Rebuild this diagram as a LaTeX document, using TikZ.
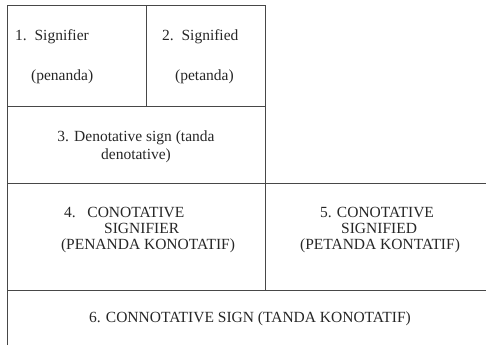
\documentclass[tikz,border=0pt]{standalone}
\usepackage{fontspec}
\setmainfont{Liberation Serif}
\begin{document}
\begin{tikzpicture}[x=1pt,y=-1pt,
  rule/.style={draw=black!72,line width=1pt},
  txt/.style={inner sep=0pt,text=black!85,font=\fontsize{15.5}{16}\selectfont}]
\useasboundingbox (0,0) rectangle (486,345);
% grid lines
\coordinate (tl) at (7,6);
\coordinate (tr) at (265,6);
\coordinate (tm) at (146,6);
\coordinate (mm) at (146,106);
\coordinate (ml) at (7,106);
\coordinate (mr) at (265,106);
\coordinate (al) at (7,183);
\coordinate (ar) at (486,183);
\coordinate (am) at (265,183);
\coordinate (bl) at (7,290);
\coordinate (br) at (486,290);
\coordinate (bm) at (265,290);
\coordinate (el) at (7,345);
\draw[rule] (el) -- (tl) -- (tr) -- (bm);
\draw[rule] (tm) -- (mm);
\draw[rule] (ml) -- (mr);
\draw[rule] (al) -- (ar);
\draw[rule] (bl) -- (br);
% texts
\node[txt,anchor=base west] (t1a) at (15,41) {1.\ \ Signifier};
\node[txt,anchor=base west] (t1b) at (31,80) {(penanda)};
\node[txt,anchor=base west] (t2a) at (162,41) {2.\ \ Signified};
\node[txt,anchor=base west] (t2b) at (175,80) {(petanda)};
\node[txt,anchor=base] (t3a) at (136,141) {3. Denotative sign (tanda};
\node[txt,anchor=base] (t3b) at (136,159) {denotative)};
\node[txt,anchor=base west] (t4a) at (64,217) {4.\ \ \ CONOTATIVE};
\node[txt,anchor=base west] (t4b) at (104,233) {SIGNIFIER};
\node[txt,anchor=base] (t4c) at (148,249) {(PENANDA KONOTATIF)};
\node[txt,anchor=base west] (t5a) at (320,217) {5. CONOTATIVE};
\node[txt,anchor=base west] (t5b) at (341,233) {SIGNIFIED};
\node[txt,anchor=base] (t5c) at (380,249) {(PETANDA KONTATIF)};
\node[txt,anchor=base] (t6) at (250,322) {6. CONNOTATIVE SIGN (TANDA KONOTATIF)};
\end{tikzpicture}
\end{document}
